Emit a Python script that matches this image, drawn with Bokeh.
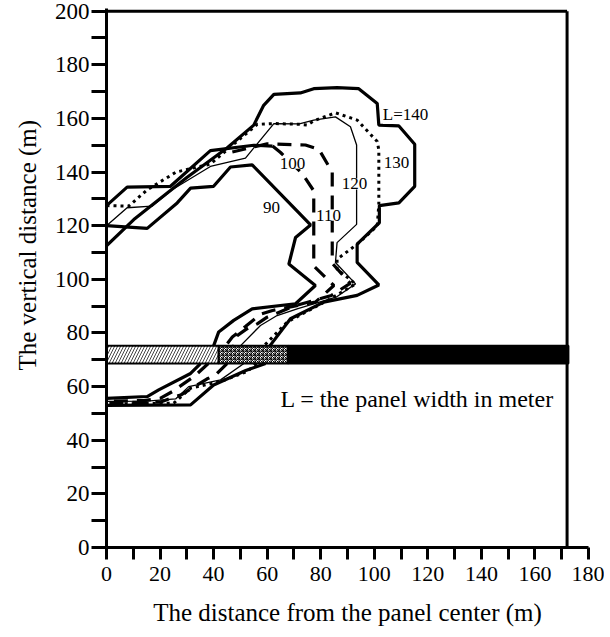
from bokeh.plotting import figure
from bokeh.models import Range1d, FixedTicker, Label, Title
from bokeh.embed import file_html
from bokeh.resources import INLINE

FONT = "Liberation Serif"

# ---- axis ticks ----
x_ticks = list(range(0, 181, 10))
y_ticks = list(range(0, 201, 10))
x_tick_labels = {t: (str(t) if t % 20 == 0 else "") for t in x_ticks}
y_tick_labels = {t: (str(t) if t % 20 == 0 else "") for t in y_ticks}

# ---- frame box ----
box_right = 172
box_top = 200

# ---- panel (coal seam) ----
panel_edges = [0, 41.9, 67.8, 172.5]
panel_bottom = 68.6
panel_top = 75.2

# ---- contours: upper parts ----
c90_x = [0, 15.2, 26.4, 31.4, 40, 46.3, 54.4, 72.4, 76.2, 70.6, 68.1, 78, 70.6, 54.4, 47.5, 41.9, 40]
c90_y = [120, 119, 128.5, 134, 134.7, 141.9, 142.7, 124.2, 120.3, 115.6, 105.7, 97.7, 90.9, 89, 84.7, 80.4, 75.2]
c100_x = [0, 7.7, 23.9, 38.8, 55, 62, 65, 73, 77.4, 77.4, 84.9, 78, 62, 57.5, 52, 47, 44.5]
c100_y = [127.5, 134.4, 134.7, 148, 150, 149.7, 147.3, 139.6, 133, 105, 97.7, 91.5, 88.4, 87, 82.5, 78.5, 75.2]
c110_x = [47, 60, 74.3, 79.3, 84.3, 84.3, 91, 84, 70, 60, 56.3, 52.5, 48.8, 47.5]
c110_y = [147.5, 150.5, 150.1, 148.5, 140, 106, 98.5, 94, 90, 85.9, 83.4, 81.6, 79, 75.2]
c120_x = [0, 7.7, 17, 24.5, 38.8, 51.9, 62.5, 72, 77.4, 85.5, 91.1, 93.4, 93.4, 86.1, 85.5, 93, 86, 71.2, 63.7, 57.5, 50]
c120_y = [120, 126.7, 127.3, 133.4, 142.1, 145.2, 158.1, 158, 159.4, 160.6, 156.9, 150.1, 120.5, 113.7, 106.3, 98.3, 93.5, 89, 86.5, 82.8, 75.2]
c130_x = [0, 8.3, 15.2, 26, 38.8, 47, 56.3, 62.5, 72.4, 75, 77.4, 85.5, 93.6, 101.1, 101.7, 101.7, 101.1, 93.6, 86.1, 86.1, 93, 83.6, 67.5, 58.8]
c130_y = [127.5, 127.3, 133.4, 140, 143, 150, 157.8, 158.1, 157.8, 157.5, 159.1, 162.1, 159.4, 151.4, 148.3, 127.9, 119.9, 113.1, 107.5, 103.8, 98.3, 92.7, 84.1, 75.2]
c140_x = [0, 10.2, 30, 45, 55, 58.7, 62.5, 72.4, 77.4, 86.1, 94.2, 101.1, 101.7, 109.2, 115.1, 115.1, 109.2, 101.9, 101.9, 93.6, 93.6, 101.7, 93.6, 81.1, 68.7, 61]
c140_y = [112.5, 122.3, 138, 149, 157.5, 164.9, 169, 169.5, 171.1, 171.5, 171.1, 165.6, 157.5, 157.2, 150.4, 134.7, 128.5, 127.5, 121.1, 113.1, 106.3, 97.9, 94, 91.5, 85.3, 75.2]

# ---- contours: lower parts (below the panel) ----
c90_lo_x = [35.1, 31.4, 19.5, 15.2, 0]
c90_lo_y = [68.6, 64.9, 58.8, 56.3, 55.6]
c100_lo_x = [38, 33, 24.5, 20.2, 14, 0]
c100_lo_y = [68.6, 64, 58.1, 55.7, 54.8, 54.6]
c110_lo_x = [45, 40.7, 37.6, 28, 20, 0]
c110_lo_y = [68.6, 64.3, 62.9, 57, 54.2, 54]
c120_lo_x = [51.3, 42.6, 30.7, 25.8, 15, 0]
c120_lo_y = [68.6, 62.5, 60, 55.4, 54.6, 54.5]
c130_lo_x = [56, 52.5, 42.6, 31.4, 25.1, 0]
c130_lo_y = [68.6, 65.6, 61.9, 59.4, 53.8, 53.5]
c140_lo_x = [59.4, 52, 40, 31.4, 0]
c140_lo_y = [68.6, 66, 60.6, 53.2, 53]

# ---- contour labels ----
lab_text = ["L=140", "130", "120", "110", "100", "90"]
lab_x = [111.7, 108.3, 92.6, 82.9, 69.5, 61.6]
lab_y = [161.5, 143.7, 135.6, 123.9, 143.3, 126.9]

note_text = "L = the panel width in meter"
note_x, note_y = 65, 55.2

ytitle_text = "The vertical distance (m)"

p = figure(width=604, height=637, x_range=Range1d(0, 180), y_range=Range1d(0, 201),
           output_backend="svg", toolbar_location=None,
           min_border_left=106, min_border_right=16, min_border_top=8, min_border_bottom=90)
p.grid.visible = False
p.outline_line_color = None
p.background_fill_color = "white"

for ax, ticks, labs, tl in ((p.xaxis[0], x_ticks, x_tick_labels, 12), (p.yaxis[0], y_ticks, y_tick_labels, 15)):
    ax.ticker = FixedTicker(ticks=ticks)
    ax.major_label_overrides = labs
    ax.axis_line_width = 3
    ax.axis_line_color = "black"
    ax.major_tick_line_width = 3
    ax.major_tick_line_color = "black"
    ax.major_tick_in = 0
    ax.major_tick_out = tl
    ax.minor_tick_line_color = None
    ax.major_label_text_font = FONT
    ax.major_label_text_color = "black"

p.xaxis.major_label_text_font_size = "22px"
p.yaxis.major_label_text_font_size = "23px"
p.xaxis.major_label_standoff = 7
p.yaxis.major_label_standoff = 2
p.xaxis.axis_label = "The distance from the panel center (m)"
p.xaxis.axis_label_text_font = FONT
p.xaxis.axis_label_text_font_size = "25px"
p.xaxis.axis_label_text_font_style = "normal"
p.xaxis.axis_label_text_color = "black"
p.xaxis.axis_label_standoff = 15

p.add_layout(Title(text=ytitle_text, align="left", offset=177, standoff=22,
                   text_font=FONT, text_font_size="25px", text_font_style="normal",
                   text_color="black"), "left")

# frame box (right and top)
p.line([box_right, box_right], [0, box_top], line_color="black", line_width=3)
p.line([0, box_right], [box_top, box_top], line_color="black", line_width=3)

# panel
p.quad(left=[panel_edges[0]], right=[panel_edges[1]], bottom=[panel_bottom], top=[panel_top],
       fill_color="white", line_color="black", line_width=2,
       hatch_pattern="right_diagonal_line", hatch_color="#444444", hatch_scale=6, hatch_weight=1)
p.quad(left=[panel_edges[1]], right=[panel_edges[2]], bottom=[panel_bottom], top=[panel_top],
       fill_color="white", line_color="black", line_width=2,
       hatch_pattern="criss_cross", hatch_color="black", hatch_scale=4, hatch_weight=1)
p.quad(left=[panel_edges[2]], right=[panel_edges[3]], bottom=[panel_bottom], top=[panel_top],
       fill_color="black", line_color="black", line_width=2)

thick = 3.2
dash = "14 9"
dot = "3 4"
# 90
p.line(c90_x, c90_y, line_color="black", line_width=thick)
p.line(c90_lo_x, c90_lo_y, line_color="black", line_width=thick)
# 100
p.line(c100_x[:6], c100_y[:6], line_color="black", line_width=thick)
p.line(c100_x[5:], c100_y[5:], line_color="black", line_width=thick, line_dash=dash)
p.line(c100_lo_x, c100_lo_y, line_color="black", line_width=thick, line_dash=dash)
# 110
p.line(c110_x, c110_y, line_color="black", line_width=thick, line_dash=dash)
p.line(c110_lo_x, c110_lo_y, line_color="black", line_width=thick, line_dash=dash)
# 120
p.line(c120_x, c120_y, line_color="black", line_width=1.3)
p.line(c120_lo_x, c120_lo_y, line_color="black", line_width=1.3)
# 130
p.line(c130_x, c130_y, line_color="black", line_width=3, line_dash=dot)
p.line(c130_lo_x, c130_lo_y, line_color="black", line_width=3, line_dash=dot)
# 140
p.line(c140_x, c140_y, line_color="black", line_width=thick)
p.line(c140_lo_x, c140_lo_y, line_color="black", line_width=thick)

for t, x, y in zip(lab_text, lab_x, lab_y):
    p.add_layout(Label(x=x, y=y, text=t, text_font=FONT, text_font_size="17px",
                       text_align="center", text_baseline="middle", text_color="black",
                       background_fill_color="white", background_fill_alpha=1.0))

p.add_layout(Label(x=note_x, y=note_y, text=note_text, text_font=FONT, text_font_size="24px",
                   text_align="left", text_baseline="middle", text_color="black"))

open("out.html", "w").write(file_html(p, INLINE))
